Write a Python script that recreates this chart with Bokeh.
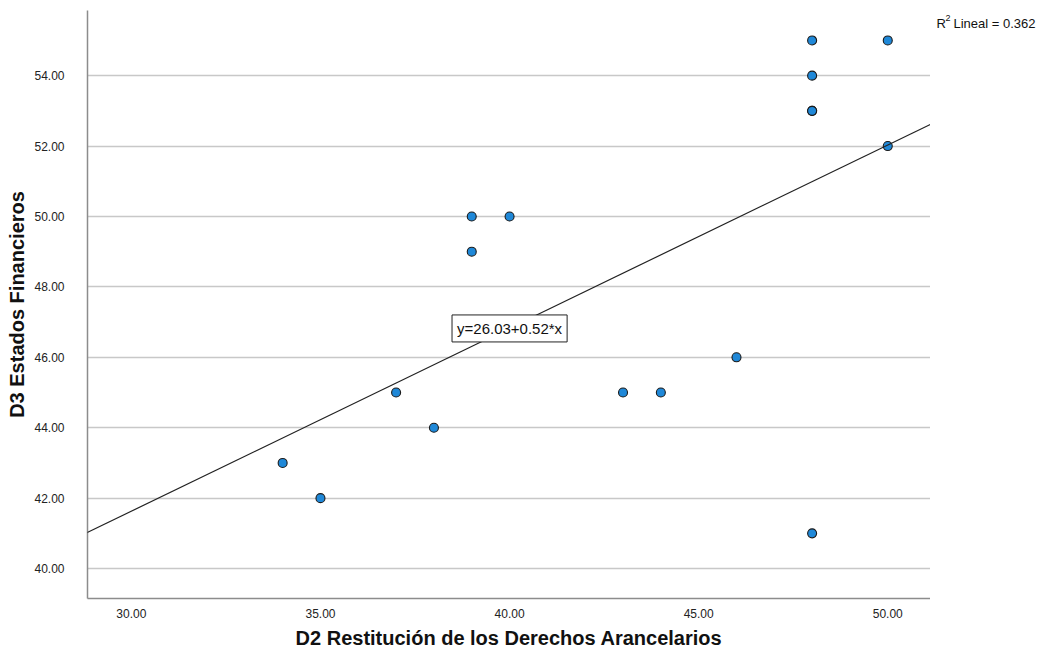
from bokeh.plotting import figure
from bokeh.layouts import row
from bokeh.models import Range1d, FixedTicker, NumeralTickFormatter, Slope, Label
from bokeh.embed import file_html
from bokeh.resources import INLINE

# data
x_vals = [34, 35, 37, 38, 39, 39, 40, 43, 44, 46, 48, 48, 48, 48, 48, 50, 50]
y_vals = [43, 42, 45, 44, 50, 49, 50, 45, 45, 46, 55, 54, 53, 53, 41, 55, 52]
intercept = 26.03
slope_val = 0.52
r2 = 0.362
x_ticks = [30, 35, 40, 45, 50]
y_ticks = [40, 42, 44, 46, 48, 50, 52, 54]

FONT = "Liberation Sans"

p = figure(width=930, height=666, output_backend="svg", toolbar_location=None,
           x_range=Range1d(28.84, 51.13), y_range=Range1d(39.15, 55.85),
           min_border_left=87, min_border_right=0, min_border_top=10, min_border_bottom=68)
p.outline_line_color = None
p.background_fill_color = "white"

p.xgrid.grid_line_color = None
p.ygrid.grid_line_color = "#c8c8c8"
p.ygrid.grid_line_width = 1.5

for ax in (p.xaxis[0], p.yaxis[0]):
    ax.axis_line_color = "#8c8c8c"
    ax.axis_line_width = 1.5
    ax.major_tick_line_color = None
    ax.minor_tick_line_color = None
    ax.major_label_text_font = FONT
    ax.major_label_text_font_size = "12px"
    ax.major_label_text_color = "#222222"
    ax.formatter = NumeralTickFormatter(format="0.00")
    ax.axis_label_text_font = FONT
    ax.axis_label_text_font_style = "bold"
    ax.axis_label_text_font_size = "20px"
    ax.axis_label_text_color = "#111111"

p.xaxis[0].ticker = FixedTicker(ticks=x_ticks)
p.yaxis[0].ticker = FixedTicker(ticks=y_ticks)
p.xaxis[0].major_label_standoff = 4
p.yaxis[0].major_label_standoff = 17
p.xaxis[0].axis_label = "D2 Restitución de los Derechos Arancelarios"
p.yaxis[0].axis_label = "D3 Estados Financieros"
p.xaxis[0].axis_label_standoff = 6
p.yaxis[0].axis_label_standoff = 3

p.add_layout(Slope(gradient=slope_val, y_intercept=intercept, line_color="#222222", line_width=1.2))

p.scatter(x_vals, y_vals, size=9, fill_color="#1f88d8", line_color="#1a1a1a", line_width=1.1)

eq = Label(x=40, y=46.82, text=f"y={intercept:.2f}+{slope_val:.2f}*x", text_font=FONT,
           text_font_size="15px", text_color="#111111", text_align="center", text_baseline="middle",
           background_fill_color="white", border_line_color="#222222", border_line_width=1,
           padding=5)
p.add_layout(eq)

# side panel holding the R² note (right of the plot frame)
side = figure(width=112, height=666, output_backend="svg", toolbar_location=None,
              x_range=Range1d(0, 112), y_range=Range1d(0, 666),
              min_border_left=0, min_border_right=0, min_border_top=0, min_border_bottom=0)
side.axis.visible = False
side.grid.visible = False
side.outline_line_color = None
side.add_layout(Label(x=6, y=651, text="R", text_font=FONT, text_font_size="13px",
                      text_color="#111111", text_baseline="middle"))
side.add_layout(Label(x=15, y=657, text="2", text_font=FONT, text_font_size="9px",
                      text_color="#111111", text_baseline="middle"))
side.add_layout(Label(x=23, y=651, text=f"Lineal = {r2:.3f}", text_font=FONT, text_font_size="13px",
                      text_color="#111111", text_baseline="middle"))

layout = row(p, side, spacing=0)
open("out.html", "w").write(file_html(layout, INLINE))
